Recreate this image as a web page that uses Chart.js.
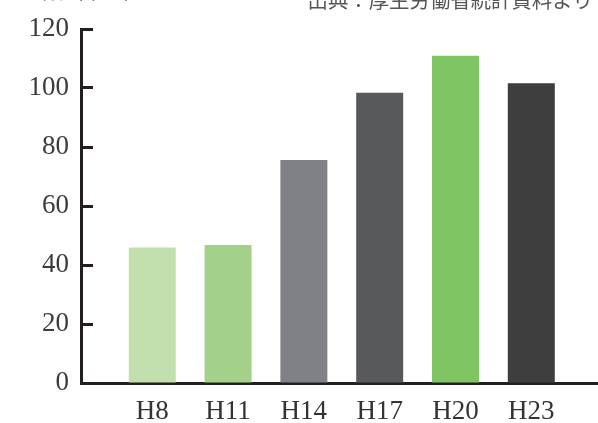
<!DOCTYPE html>
<html>
<head>
<meta charset="utf-8">
<script src="https://cdn.jsdelivr.net/npm/chart.js@4.4.1/dist/chart.umd.min.js"></script>
<style>
  html, body { margin: 0; padding: 0; background: #fff; }
  #wrap { width: 598px; height: 423px; position: relative; }
</style>
</head>
<body>
<div id="wrap"><canvas id="c"></canvas></div>
<script>
// 年度ごとの数値
const years = ['H8', 'H11', 'H14', 'H17', 'H20', 'H23'];
const counts = [45.9, 46.8, 75.6, 98.4, 110.9, 101.6];
const barColors = ['#c1e0ad', '#a3d189', '#808184', '#58595b', '#80c564', '#3e3e3e'];
const yTicks = [0, 20, 40, 60, 80, 100, 120];

const sourceNote = '出典：厚生労働省統計資料より';
const unitNote = '人数（千人）';

const axisColor = '#231f20';
const serif = '"Liberation Serif", "DejaVu Serif", serif';

// 上端で切れている注記
const notesPlugin = {
  id: 'notes',
  afterDraw(chart) {
    const ctx = chart.ctx;
    ctx.save();
    ctx.font = '20.4px "Noto Sans CJK JP", sans-serif';
    ctx.fillStyle = '#555555';
    ctx.textBaseline = 'alphabetic';
    ctx.textAlign = 'right';
    ctx.fillText(sourceNote, 593, 8);
    ctx.textAlign = 'left';
    ctx.fillText(unitNote, 22, -1);
    ctx.restore();
  }
};

new Chart(document.getElementById('c'), {
  type: 'bar',
  data: {
    datasets: [{
      data: counts.map((v, i) => ({ x: i, y: v })),
      backgroundColor: barColors,
      borderWidth: 0,
      barPercentage: 0.62,
      categoryPercentage: 1
    }]
  },
  options: {
    responsive: true,
    maintainAspectRatio: false,
    animation: false,
    layout: { padding: { top: 29, right: 0, bottom: 0, left: 0 } },
    plugins: {
      legend: { display: false },
      tooltip: { enabled: false }
    },
    scales: {
      x: {
        type: 'linear',
        offset: false,
        min: -0.94,
        max: 5.88,
        afterFit: s => { s.height = 40; },
        afterBuildTicks: s => { s.ticks = years.map((_, i) => ({ value: i })); },
        grid: { display: false },
        border: { display: true, color: axisColor, width: 3 },
        ticks: {
          padding: 5,
          color: '#333333',
          font: { family: serif, size: 27 },
          maxRotation: 0,
          autoSkip: false,
          callback: v => years[v] ?? ''
        }
      },
      y: {
        min: 0,
        max: 120,
        afterFit: s => { s.width = 81; s.paddingTop = 0; s.paddingBottom = 0; },
        afterBuildTicks: s => { s.ticks = yTicks.map(v => ({ value: v })); },
        grid: {
          drawOnChartArea: false,
          drawTicks: true,
          tickLength: -12,
          tickWidth: 3,
          tickColor: axisColor
        },
        border: { display: true, color: axisColor, width: 3 },
        ticks: {
          padding: 24,
          color: '#3c3c3c',
          font: { family: serif, size: 27 }
        }
      }
    }
  },
  plugins: [notesPlugin]
});
</script>
</body>
</html>
